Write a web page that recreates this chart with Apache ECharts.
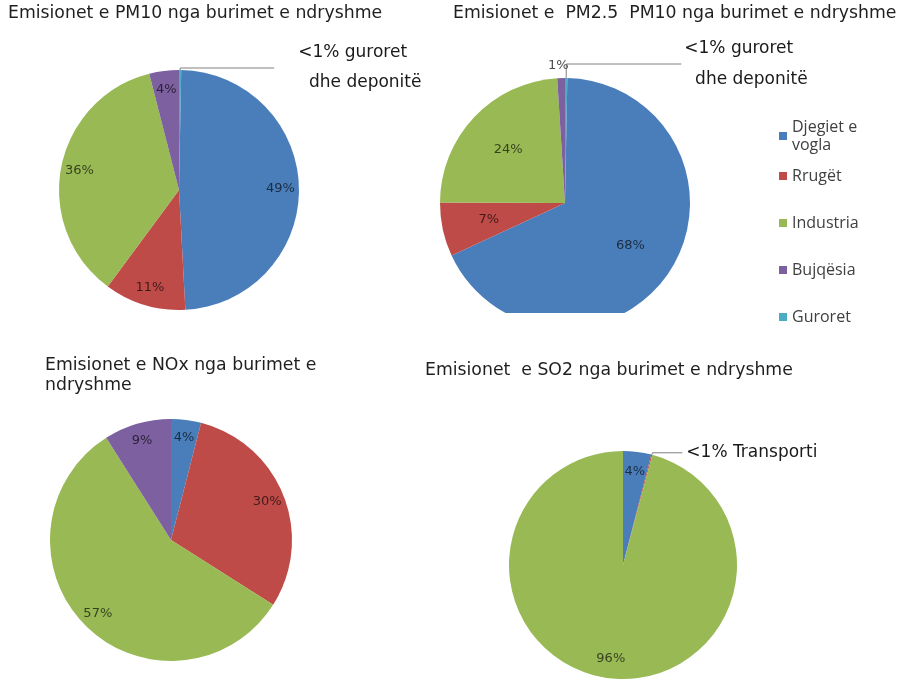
<!DOCTYPE html>
<html>
<head>
<meta charset="utf-8">
<title>Emisionet nga burimet e ndryshme</title>
<script src="https://cdn.jsdelivr.net/npm/echarts@6/dist/echarts.min.js"></script>
<style>
  html, body { margin: 0; padding: 0; background: #fff; }
  #wrap { position: relative; width: 911px; height: 681px; }
  #main { position: absolute; left: 0; top: 0; width: 911px; height: 681px; }
  /* PM2.5 pie is cut off at the bottom in the original, so it gets its own box */
  #pm25 { position: absolute; left: 430px; top: 0; width: 481px; height: 313px; }
</style>
</head>
<body>
<div id="wrap">
  <div id="main"></div>
  <div id="pm25"></div>
</div>
<script>
// burimet, in legend order
var categories = ['Djegiet e vogla', 'Rrugët', 'Industria', 'Bujqësia', 'Guroret'];

// slices in drawing order, clockwise from 12 o'clock (values in %)
var pm10Names = ['Guroret', 'Djegiet e vogla', 'Rrugët', 'Industria', 'Bujqësia'];
var pm10Values = [0.3, 49, 11, 36, 4];
var pm25Names = ['Guroret', 'Djegiet e vogla', 'Rrugët', 'Industria', 'Bujqësia'];
var pm25Values = [0.3, 68, 7, 24, 1];
var noxNames = ['Djegiet e vogla', 'Rrugët', 'Industria', 'Bujqësia'];
var noxValues = [4, 30, 57, 9];
var so2Names = ['Djegiet e vogla', 'Transporti', 'Industria'];
var so2Values = [4, 0.15, 96];

var titles = [
  'Emisionet e PM10 nga burimet e ndryshme',
  'Emisionet e  PM2.5  PM10 nga burimet e ndryshme',
  'Emisionet e NOx nga burimet e\nndryshme',
  'Emisionet  e SO2 nga burimet e ndryshme'
];
var smallNotes = {
  pm10: '<1% guroret\n  dhe deponitë',
  pm25: '<1% guroret\n  dhe deponitë',
  so2: '<1% Transporti'
};

var colors = {
  'Djegiet e vogla': '#4a7ebb',
  'Rrugët': '#be4b48',
  'Industria': '#98b954',
  'Bujqësia': '#7d60a0',
  'Guroret': '#4bacc6',
  'Transporti': '#be4b48'
};

var txtFont = 'DejaVu Sans';

// one coloured pie + a see-through ring that only carries the % labels,
// so the labels sit further out than the middle of the radius
function makePie(names, values, cfg) {
  var base = names.map(function (n, i) {
    var item = {
      name: n, value: values[i],
      itemStyle: { color: colors[n] },
      label: { show: false },
      labelLine: { show: false }
    };
    if (values[i] < 1 && cfg.note) {
      item.label = {
        show: true, position: 'outside', formatter: cfg.note.text,
        color: '#1a1a1a', fontSize: 17, fontFamily: txtFont,
        lineHeight: cfg.note.lineHeight, padding: cfg.note.padding,
        distanceToLabelLine: cfg.note.dist
      };
      item.labelLine = {
        show: true, length: cfg.note.len, length2: cfg.note.len2,
        lineStyle: { color: '#808080', width: 1 }
      };
    }
    if (n === cfg.outsideName) {
      item.label = {
        show: true, position: 'outside', formatter: '{c}%',
        fontSize: 13, color: '#4d4d4d', fontFamily: txtFont,
        distanceToLabelLine: -8
      };
      item.labelLine = { show: false, length: 12, length2: 0 };
    }
    return item;
  });
  var ring = names.map(function (n, i) {
    var hide = values[i] < 1 || n === cfg.outsideName;
    return { name: n, value: values[i], label: { show: !hide } };
  });
  return [
    {
      type: 'pie', center: cfg.center, radius: cfg.r, startAngle: 90,
      avoidLabelOverlap: false, silent: true, data: base
    },
    {
      type: 'pie', center: cfg.center, radius: [cfg.inner, cfg.r], startAngle: 90,
      avoidLabelOverlap: false, silent: true,
      itemStyle: { color: 'rgba(0,0,0,0)' },
      label: {
        position: 'inside', rotate: 0, formatter: '{c}%',
        color: 'rgba(0,0,0,0.65)', fontSize: 13, fontFamily: txtFont
      },
      labelLine: { show: false },
      data: ring
    }
  ];
}

var titleStyle = { fontFamily: txtFont, fontSize: 17.3, fontWeight: 'normal', color: '#1f1f1f', lineHeight: 20 };
var legendText = { fontFamily: 'Open Sans', fontSize: 16, color: '#404040', lineHeight: 18 };

var mainChart = echarts.init(document.getElementById('main'));
var option = {
  animation: false,
  title: [
    { text: titles[0], left: 8, top: 4, padding: 0, textStyle: titleStyle },
    { text: titles[1], left: 453, top: 4, padding: 0, textStyle: titleStyle },
    { text: titles[2], left: 45, top: 356, padding: 0, textStyle: titleStyle },
    { text: titles[3], left: 425, top: 361, padding: 0, textStyle: titleStyle }
  ],
  legend: [
    {
      data: categories.slice(0, 1), orient: 'vertical', left: 779, top: 118, padding: 0,
      icon: 'rect', itemWidth: 8, itemHeight: 8, textStyle: legendText,
      formatter: function (name) { return name.replace('e vogla', 'e\nvogla'); }
    },
    {
      data: categories.slice(1), orient: 'vertical', left: 779, top: 167, padding: 0,
      icon: 'rect', itemWidth: 8, itemHeight: 8, itemGap: 29, textStyle: legendText
    }
  ],
  series: [].concat(
    makePie(pm10Names, pm10Values, {
      center: [179, 190], r: 120, inner: 77,
      note: { text: smallNotes.pm10, len: 2, len2: 94, lineHeight: 30, padding: [18, 0, 0, 0], dist: 24 }
    }),
    makePie(noxNames, noxValues, { center: [171, 540], r: 121, inner: 80 }),
    makePie(so2Names, so2Values, {
      center: [623, 565], r: 114, inner: 68,
      note: { text: smallNotes.so2, len: 2, len2: 30, lineHeight: 20, padding: 0, dist: 4 }
    })
  )
};
mainChart.setOption(option);

var pm25Chart = echarts.init(document.getElementById('pm25'));
pm25Chart.setOption({
  animation: false,
  series: makePie(pm25Names, pm25Values, {
    center: [135, 203], r: 125, inner: 25, outsideName: 'Bujqësia',
    note: { text: smallNotes.pm25, len: 14, len2: 115, lineHeight: 31, padding: [25, 0, 0, 0], dist: 3 }
  })
});
</script>
</body>
</html>
